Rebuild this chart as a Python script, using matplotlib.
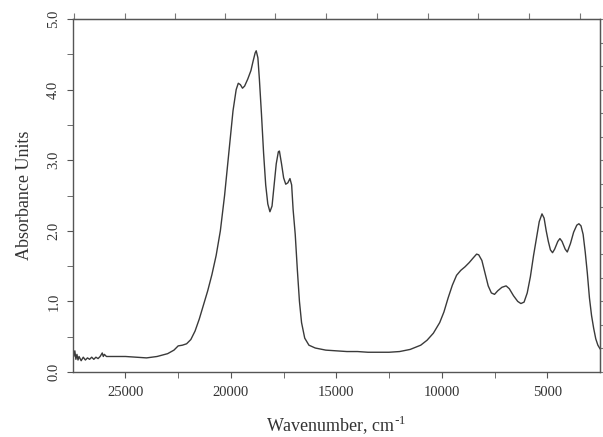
import matplotlib
matplotlib.use("Agg")
import matplotlib.pyplot as plt
import numpy as np

wavenumber = [27500, 27450, 27400, 27350, 27300, 27250, 27200, 27100, 27000, 26900,
              26800, 26700, 26600, 26500, 26400, 26300, 26200, 26100, 26050, 26000,
              25900, 25700, 25500, 25000, 24500, 24000, 23500, 23000, 22700, 22500,
              22300, 22100, 21900, 21700, 21500, 21300, 21100, 20900, 20700, 20500,
              20300, 20100, 19900, 19750, 19650, 19550, 19450, 19350, 19200, 19050,
              18950, 18850, 18800, 18720, 18650, 18550, 18450, 18350, 18250, 18150,
              18050, 17950, 17850, 17750, 17700, 17600, 17500, 17400, 17300, 17200,
              17120, 17050, 16950, 16850, 16750, 16650, 16500, 16300, 16000, 15500,
              15000, 14500, 14000, 13500, 13000, 12500, 12000, 11500, 11000, 10700,
              10400, 10100, 9900, 9700, 9500, 9300, 9100, 8900, 8700, 8500,
              8350, 8250, 8100, 7950, 7800, 7650, 7500, 7350, 7150, 6950,
              6800, 6600, 6400, 6250, 6100, 5950, 5800, 5650, 5500, 5380,
              5250, 5150, 5050, 4950, 4850, 4750, 4650, 4500, 4400, 4300,
              4150, 4050, 3900, 3750, 3600, 3500, 3400, 3300, 3200, 3100,
              3000, 2900, 2800, 2700, 2600, 2500]
absorbance = [0.32, 0.22, 0.30, 0.18, 0.25, 0.17, 0.22, 0.16, 0.21, 0.17,
              0.20, 0.18, 0.21, 0.18, 0.21, 0.19, 0.22, 0.27, 0.22, 0.25,
              0.22, 0.22, 0.22, 0.22, 0.21, 0.20, 0.22, 0.26, 0.31, 0.37,
              0.38, 0.40, 0.46, 0.58, 0.75, 0.95, 1.15, 1.38, 1.65, 2.00,
              2.50, 3.10, 3.70, 4.00, 4.09, 4.07, 4.02, 4.05, 4.15, 4.27,
              4.40, 4.52, 4.55, 4.45, 4.15, 3.65, 3.10, 2.65, 2.38, 2.27,
              2.35, 2.65, 2.95, 3.12, 3.13, 2.95, 2.75, 2.66, 2.68, 2.74,
              2.65, 2.30, 1.95, 1.45, 1.00, 0.70, 0.48, 0.38, 0.34, 0.31,
              0.30, 0.29, 0.29, 0.28, 0.28, 0.28, 0.29, 0.32, 0.38, 0.45,
              0.55, 0.70, 0.85, 1.05, 1.23, 1.37, 1.44, 1.49, 1.55, 1.62,
              1.67, 1.66, 1.58, 1.40, 1.22, 1.12, 1.10, 1.15, 1.20, 1.22,
              1.18, 1.08, 1.00, 0.97, 0.99, 1.12, 1.35, 1.65, 1.92, 2.13,
              2.24, 2.18, 2.00, 1.85, 1.73, 1.69, 1.74, 1.85, 1.89, 1.85,
              1.74, 1.70, 1.82, 1.98, 2.08, 2.10, 2.07, 1.95, 1.70, 1.40,
              1.05, 0.80, 0.62, 0.47, 0.38, 0.33]

x_ticks = [25000, 20000, 15000, 10000, 5000]
x_minor = [22500, 17500, 12500, 7500]
y_ticks = [0.0, 1.0, 2.0, 3.0, 4.0, 5.0]
y_minor = [0.5, 1.5, 2.5, 3.5, 4.5]
top_ticks = [27460, 25040, 22640, 20300, 17890, 15490, 13070, 10650, 8280, 5880, 3460]
right_ticks = list(np.linspace(0, 5, 16))

plt.rcParams['font.family'] = ['Liberation Serif', 'DejaVu Serif']
fig = plt.figure(figsize=(6.03, 4.37), dpi=100)
ax = fig.add_axes([0.1206, 0.1487, 0.995 - 0.1206, 0.9565 - 0.1487])
line_col = '#3a3a3a'
ax.plot(wavenumber, absorbance, color=line_col, lw=1.0)
ax.set_xlim(27500, 2500)
ax.set_ylim(0, 5.0)

ax.set_xticks(x_ticks)
ax.set_xticks(x_minor, minor=True)
ax.set_xticklabels([str(v) for v in x_ticks])
ax.set_yticks(y_ticks)
ax.set_yticks(y_minor, minor=True)
ax.set_yticklabels([f"{v:.1f}" for v in y_ticks], rotation=90, va='center')

txt_col = '#333333'
ax.tick_params(axis='both', which='both', direction='out', color='#555555',
               labelsize=10.5, labelcolor=txt_col)
ax.tick_params(axis='both', which='major', length=4)
ax.tick_params(axis='both', which='minor', length=4)
ax.tick_params(axis='x', pad=6)
ax.tick_params(axis='y', pad=5)

for s in ax.spines.values():
    s.set_color('#555555')
    s.set_linewidth(1.0)

top = ax.secondary_xaxis('top')
top.set_xticks(top_ticks)
top.set_xticklabels([])
top.tick_params(direction='out', length=4, color='#777777')
top.spines['top'].set_color('#555555')

right = ax.secondary_yaxis('right')
right.set_yticks(right_ticks)
right.set_yticklabels([])
right.tick_params(direction='out', length=3, color='#777777')
right.spines['right'].set_color('#555555')

ax.set_xlabel("Wavenumber, cm$^{\\mathregular{\\text{-}1}}$", fontsize=13, color=txt_col, labelpad=10)
ax.set_ylabel("Absorbance Units", fontsize=13, color=txt_col, labelpad=10)

fig.savefig("out.png", dpi=100)
